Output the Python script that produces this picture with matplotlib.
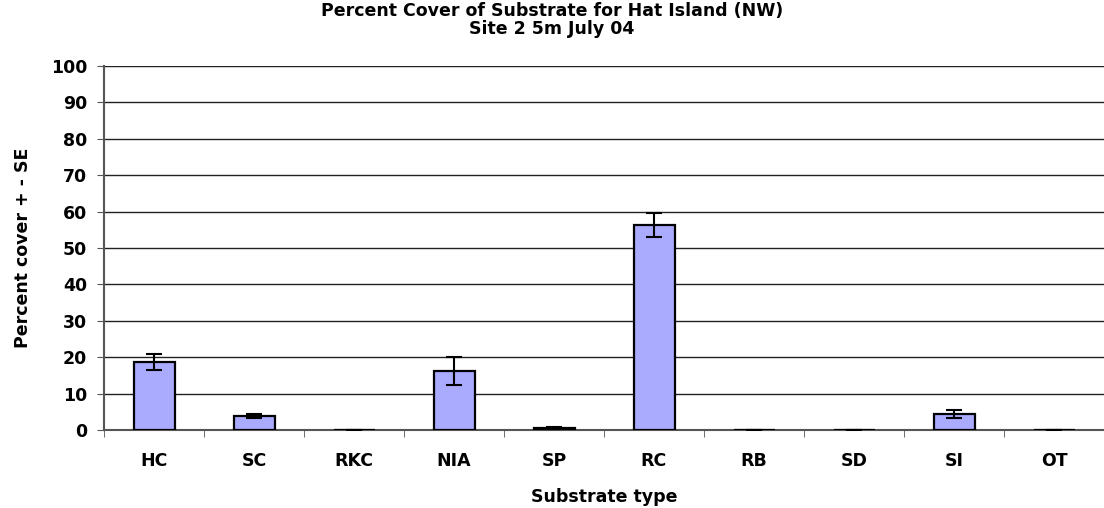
import numpy as np
import matplotlib.pyplot as plt

categories = ['HC', 'SC', 'RKC', 'NIA', 'SP', 'RC', 'RB', 'SD', 'SI', 'OT']
cover = [18.7, 3.8, 0.0, 16.2, 0.6, 56.4, 0.0, 0.0, 4.4, 0.0]
se = [2.1, 0.5, 0.0, 3.8, 0.2, 3.3, 0.0, 0.0, 1.1, 0.0]

fs = 12.5
fig = plt.figure(figsize=(11.04, 5.08), dpi=100)
ax = fig.add_axes([104 / 1104, 1 - 430 / 508, 1000 / 1104, 364 / 508])

x = np.arange(len(categories))
ax.bar(x, cover, width=0.41, color='#aaaaff', edgecolor='black', linewidth=1.6, zorder=3)
ax.errorbar(x, cover, yerr=se, fmt='none', ecolor='black', elinewidth=1.5,
            capsize=6, capthick=1.5, zorder=4)

ax.set_xlim(-0.5, len(categories) - 0.5)
ax.set_ylim(0, 100)
ax.set_yticks(range(0, 101, 10))
ax.set_xticks(x)
ax.set_xticklabels(categories)
# category separators like excel
ax.set_xticks(np.arange(-0.5, len(categories), 1), minor=True)
ax.tick_params(axis='x', which='major', length=0, pad=16)
ax.tick_params(axis='x', which='minor', length=5, color='#555555')
ax.tick_params(axis='y', length=5, color='#555555', pad=7)
for lab in ax.get_xticklabels() + ax.get_yticklabels():
    lab.set_fontweight('bold')
    lab.set_fontsize(fs)

ax.grid(axis='y', color='#222222', linewidth=1, zorder=0)
ax.axhline(100, color='#999999', linewidth=1.5, zorder=1)
for s in ['top', 'right']:
    ax.spines[s].set_visible(False)
ax.spines['left'].set_color('#555555')
ax.spines['left'].set_linewidth(1.5)
ax.spines['bottom'].set_color('#555555')
ax.spines['bottom'].set_linewidth(1.5)

ax.set_xlabel('Substrate type', fontsize=fs, fontweight='bold', labelpad=13)
ax.set_ylabel('Percent cover + - SE', fontsize=fs, fontweight='bold', labelpad=14)
fig.text(0.5, 1 - 20 / 508, 'Percent Cover of Substrate for Hat Island (NW)\nSite 2 5m July 04',
         ha='center', va='center', fontsize=fs, fontweight='bold', linespacing=1.0)

fig.savefig('out.png', dpi=100)
